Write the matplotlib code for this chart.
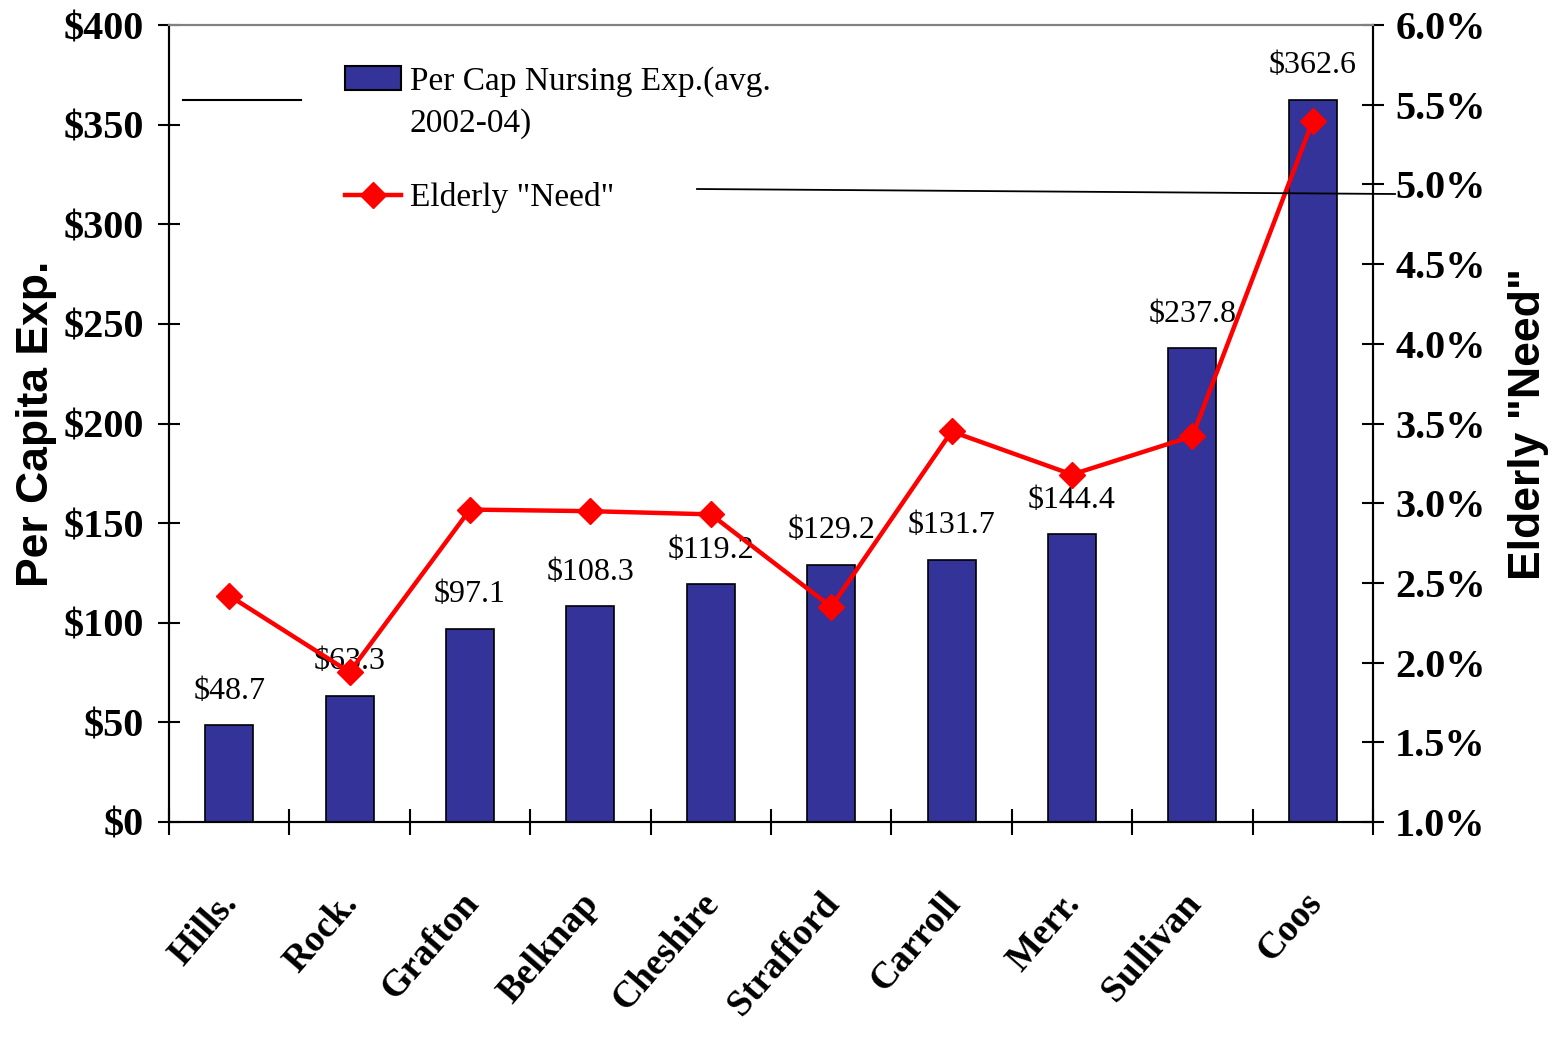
import matplotlib
matplotlib.use("Agg")
import matplotlib.pyplot as plt
import matplotlib.transforms as mtransforms
from matplotlib.patches import Patch, Rectangle
from matplotlib.lines import Line2D
from matplotlib.legend_handler import HandlerPatch
import numpy as np

counties = ["Hills.", "Rock.", "Grafton", "Belknap", "Cheshire",
            "Strafford", "Carroll", "Merr.", "Sullivan", "Coos"]
per_cap_exp = [48.7, 63.3, 97.1, 108.3, 119.2, 129.2, 131.7, 144.4, 237.8, 362.6]
elderly_need = [2.42, 1.94, 2.96, 2.95, 2.93, 2.35, 3.45, 3.18, 3.42, 5.40]
left_ticks = [0, 50, 100, 150, 200, 250, 300, 350, 400]
right_ticks = [1.0, 1.5, 2.0, 2.5, 3.0, 3.5, 4.0, 4.5, 5.0, 5.5, 6.0]

SERIF = "Liberation Serif"
SANS = "Liberation Sans"
BAR_COLOR = "#333399"


class TopPatchHandler(HandlerPatch):
    """Patch handler that aligns the swatch with the first text line."""
    def __init__(self, dy=0, **kw):
        super().__init__(**kw)
        self.dy = dy

    def create_artists(self, legend, orig_handle, xdescent, ydescent,
                       width, height, fontsize, trans):
        p = Rectangle((-xdescent, -ydescent + self.dy), width, height)
        self.update_prop(p, orig_handle, legend)
        p.set_transform(trans)
        return [p]


fig = plt.figure(figsize=(15.54, 10.37), dpi=100)
ax = fig.add_axes([169/1554, 1-822/1037, (1373-169)/1554, (822-25)/1037])
ax2 = ax.twinx()

x = np.arange(len(counties))
ax.bar(x, per_cap_exp, width=0.4, color=BAR_COLOR, edgecolor="black",
       linewidth=1.2, zorder=2)
ax.set_xlim(-0.5, len(counties) - 0.5)
ax.set_ylim(0, 400)
ax.set_yticks(left_ticks)
ax.set_yticklabels([f"${v}" for v in left_ticks], fontfamily=SERIF,
                   fontweight="bold", fontsize=29)
ax.tick_params(axis="y", direction="inout", length=16, width=1.5, pad=10)

# category boundary ticks
ax.set_xticks(np.arange(len(counties) + 1) - 0.5)
ax.set_xticklabels([])
ax.tick_params(axis="x", direction="inout", length=19, width=1.5)

trans = mtransforms.blended_transform_factory(ax.transData, ax.transAxes)
for xi, name in zip(x, counties):
    ax.text(xi + 0.02, -0.095, name, transform=trans, rotation=49, ha="right",
            va="center", rotation_mode="anchor", fontfamily=SERIF,
            fontweight="bold", fontsize=27)

for xi, v in zip(x, per_cap_exp):
    ax.annotate(f"${v}", (xi, v), xytext=(0, 14), textcoords="offset points",
                ha="center", va="bottom", fontfamily=SERIF, fontsize=23, zorder=5)

for a in (ax, ax2):
    for s in ["left", "bottom", "right"]:
        a.spines[s].set_linewidth(1.5)
    a.spines["top"].set_color("#808080")
    a.spines["top"].set_linewidth(1.5)

ax2.plot(x, elderly_need, color="red", linewidth=3.2, marker="D",
         markersize=13, zorder=4)
ax2.set_ylim(1.0, 6.0)
ax2.set_yticks(right_ticks)
ax2.set_yticklabels([f"{v:.1f}%" for v in right_ticks], fontfamily=SERIF,
                    fontweight="bold", fontsize=29)
ax2.tick_params(axis="y", direction="inout", length=16, width=1.5, pad=8)

ax.set_ylabel("Per Capita Exp.", fontfamily=SANS, fontweight="bold",
              fontsize=32, labelpad=5)
ax2.set_ylabel('Elderly "Need"', fontfamily=SANS, fontweight="bold",
               fontsize=32, labelpad=16)

bar_handle = Patch(facecolor=BAR_COLOR, edgecolor="black", linewidth=1.5)
line_handle = Line2D([], [], color="red", linewidth=3.2, marker="D", markersize=13)
labels = ["Per Cap Nursing Exp.(avg.\n2002-04)", 'Elderly "Need"']
leg = fig.legend([bar_handle, line_handle], labels, loc="upper left",
                 bbox_to_anchor=(328/1554, 1-50/1037), frameon=False,
                 prop={"family": SERIF, "size": 24}, handlelength=1.7,
                 handletextpad=0.25, labelspacing=1.3, borderpad=0,
                 handler_map={Patch: TopPatchHandler(dy=18)})
for t in leg.get_texts():
    t.set_linespacing(1.45)

# decorative stray lines present in the original
fig.add_artist(Line2D([183/1554, 301/1554], [1-100/1037, 1-100/1037],
                      color="black", linewidth=1.5))
fig.add_artist(Line2D([697/1554, 1395/1554], [1-189/1037, 1-194/1037],
                      color="black", linewidth=1.3, zorder=10))

fig.savefig("out.png", dpi=100)
